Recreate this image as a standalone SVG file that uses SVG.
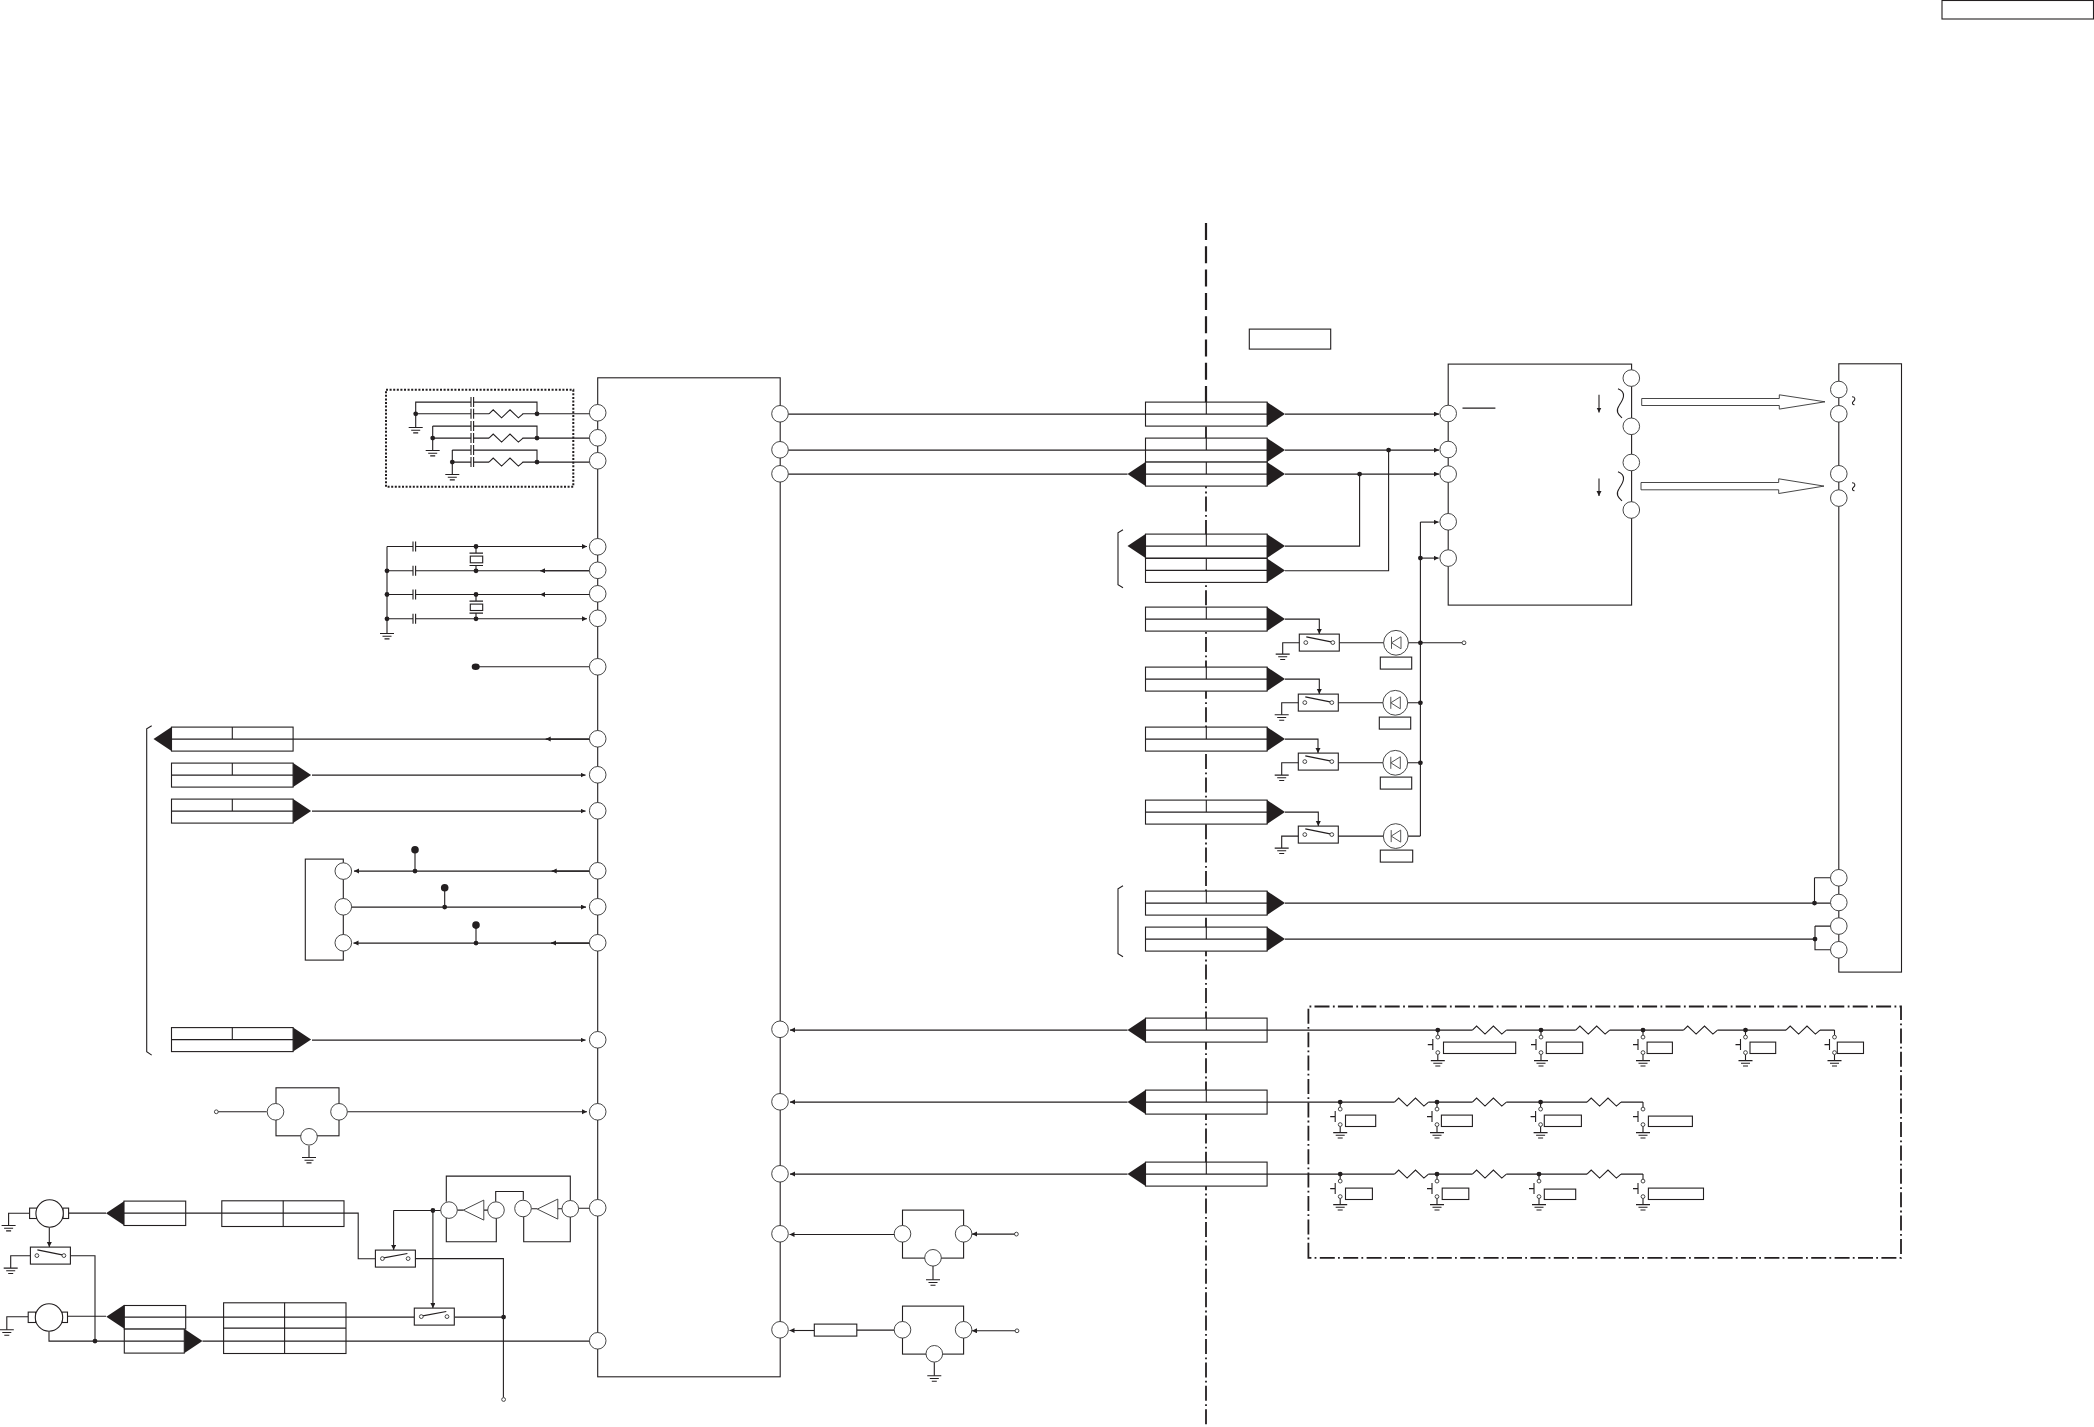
<svg xmlns="http://www.w3.org/2000/svg" width="2094" height="1427" viewBox="0 0 2094 1427">
<style>
.w{fill:none;stroke:#231f20;stroke-width:1.1}
.o{fill:#fff;stroke:#231f20;stroke-width:1.1}
.t{fill:#fff;stroke:#333;stroke-width:.9}
.f{fill:#231f20;stroke:none}
.dd{fill:none;stroke:#231f20;stroke-width:1.8;stroke-dasharray:15 3.4 1.8 3.2}
.ds{fill:none;stroke:#231f20;stroke-width:2.2;stroke-dasharray:17 6.3}
.dot{fill:none;stroke:#231f20;stroke-width:2;stroke-dasharray:2 1.6}
.a{fill:none;stroke:#231f20;stroke-width:1.1;marker-end:url(#ah)}
.thin{fill:none;stroke:#555;stroke-width:1}
</style>
<defs>
<marker id="ah" markerUnits="userSpaceOnUse" markerWidth="6" markerHeight="6" refX="5" refY="2.5" orient="auto"><path d="M0 0L5 2.5L0 5Z" fill="#231f20"/></marker>
<circle id="pin" r="8.3" class="t"/>
<circle id="j" r="2.4" class="f"/>
<circle id="bj" r="3.8" class="f"/>
<circle id="term" r="1.9" class="t"/>
<g id="gnd" class="w"><path d="M-7 0H7M-4.5 2.7H4.5M-2.5 5.4H2.5"/></g>
<path id="res" class="w" d="M0 0L4.2-4L12.6 4L21-4L29.4 4L34 0"/>
<g id="cap" class="w"><path d="M-1.3-5V5M1.3-5V5"/></g>
<g id="cb"><rect width="121.6" height="24" class="o"/><path class="w" d="M0 12H121.6M60.8 0V12"/></g>
<path id="tr" class="f" d="M0-12L18 0L0 12Z"/>
<path id="tl" class="f" d="M0-12L-18 0L0 12Z"/>
<g id="reld"><rect width="40" height="17" class="o"/><path class="w" d="M7 2.8L33 8"/><circle cx="6.5" cy="8.5" r="1.9" class="t"/><circle cx="33.5" cy="8.5" r="1.9" class="t"/></g>
<g id="relu"><rect width="40" height="17" class="o"/><path class="w" d="M7 8L32 3.4"/><circle cx="7" cy="8.5" r="1.9" class="t"/><circle cx="32.7" cy="8.5" r="1.9" class="t"/></g>
<g id="led"><circle r="12.4" class="t"/><path class="thin" d="M-4.5-6V6M-4.5 0L5-6V6Z"/></g>
<g id="sw"><path class="w" d="M0 0V5.2M0 24.5V30.5M-5 9V20M-10 14.5H-5"/><circle cy="7" r="1.9" class="t"/><circle cy="22.5" r="1.9" class="t"/><use href="#gnd" y="30.5"/></g>
<path id="tri" class="t" d="M0 0L20.5-10V10Z"/>
<path id="squig" class="w" d="M0 0C10 4 4 12 1 17C-3 23 1 26 4 29"/>
<path id="tild" class="w" d="M0 0C3.5 0 3.5 3 1.5 4.5C-.5 6 .5 8 2.5 8"/>
</defs>

<g id="centre-line"><path class="ds" d="M1206 223V403"/><path class="dd" d="M1206 403V1427"/></g>
<g id="title-box"><rect x="1942" y=".5" width="151.5" height="18.5" class="o"/></g>
<g transform="translate(0 .8)">
<g id="unit-boundary"><path class="dd" d="M1308.4 1257V1005.7H1901V1257Z"/></g>
<g id="filter-box"><rect x="386" y="389" width="187.3" height="97" class="dot"/></g>
<g id="note-box"><rect x="1249.3" y="328.3" width="81.4" height="20" class="o"/></g>

<g id="connectors">
<!-- filters -->
<path class="w" d="M415.7 413V401.3H471M473.6 401.3H537V413M415.7 413H471M473.6 413H489M522.5 413H589.5M415.7 413V426.7"/>
<path class="w" d="M432.7 425.3H471M473.6 425.3H537V437.3M432.7 425.3V449.7M432.7 437.3H471M473.6 437.3H489M522.5 437.3H589.5"/>
<path class="w" d="M452.3 449.3H471M473.6 449.3H537V461.3M452.3 449.3V473.7M452.3 461.3H471M473.6 461.3H489M522.5 461.3H589.5"/>
<!-- crystals -->
<path class="w" d="M387 545.7V632.7M387 545.7H413M387 570H413M387 593.7H413M387 618H413M415.7 570H589.5M415.7 593.7H589.5M476 545.7V552.3M476 564.7V570M476 593.7V600.3M476 612.3V618"/>
<path class="a" d="M415.7 545.7H587"/><path class="a" d="M415.7 618H587"/>
<path class="a" d="M589.5 570H540"/><path class="a" d="M589.5 593.7H540"/>
<path class="w" d="M476 666H589.5"/>
<!-- left connectors -->
<path class="w" d="M293 738.3H589.5"/><path class="a" d="M589.5 738.3H545.7"/>
<path class="a" d="M312 774.3H585.5"/><path class="a" d="M312 810.3H585.5"/><path class="a" d="M312 1039.3H585.5"/>
<path class="a" d="M589.5 870.3H354"/><path class="a" d="M589.5 870.3H551.7"/>
<path class="a" d="M351.7 906.3H586"/>
<path class="a" d="M589.5 942.3H353.5"/><path class="a" d="M589.5 942.3H551"/>
<path class="w" d="M415 849V870.3M444.7 887V906.3M476 924.3V942.3"/>
<!-- regulator left -->
<path class="w" d="M218 1111H266.7"/><path class="a" d="M347.3 1111H587"/>
<path class="w" d="M309 1145V1156.7"/>
<!-- motor side -->
<path class="w" d="M29.6 1212.5H8.6V1224.7M68.6 1212.3H106M185.7 1212.3H358.2V1258H375.4M414.6 1257.8H503.4V1396.8"/>
<path class="w" d="M28.2 1316H6.8V1329M67.5 1315.5H106M185.7 1316.3H414.3M454.6 1316.3H503.6"/>
<path class="w" d="M49 1330.7V1340.3H124.3M202.5 1340.3H589.5M95 1340.3V1255H70.7M30.4 1255H10.7V1267.3"/>
<path class="a" d="M49.3 1226.7V1246.3"/>
<path class="w" d="M432.9 1209.7H393.6"/><path class="a" d="M393.6 1209.7V1249.3"/><path class="a" d="M432.9 1209.7V1307.3"/>
<path class="w" d="M432.9 1209.7H440.7M578.6 1207.5H589.4"/>
<!-- main to centre -->
<path class="w" d="M788.3 413.3H1145.5M788.3 449.3H1145.5M788.3 473.3H1127.5"/>
<path class="a" d="M1285 413.3H1439"/><path class="a" d="M1285 449.3H1439"/><path class="a" d="M1285 473.3H1439"/>
<path class="w" d="M1285 545.3H1359.6V473.3M1285 570H1388.6V449.3"/>
<path class="a" d="M1285 618.3H1319.3V633.3"/><path class="a" d="M1285 678.3H1319.3V693.3"/><path class="a" d="M1285 738.3H1318V752.3"/><path class="a" d="M1285 811.3H1318.3V825.3"/>
<path class="w" d="M1420.4 521.3V835.3"/><path class="a" d="M1420.4 521.3H1438.6"/><path class="a" d="M1420.4 557.3H1438.6"/>
<path class="w" d="M1305 642H1282.7V653.3M1332.8 642H1462M1304.8 702H1281.7V714M1331.8 702H1420.4M1304.8 762H1281.7V774.3M1331.8 762H1420.4M1304.8 835.3H1281.7V847.3M1331.8 835.3H1420.4"/>
<path class="a" d="M1127.5 1029.3H790"/><path class="a" d="M1127.5 1101.3H790"/><path class="a" d="M1127.5 1173.3H790"/>
<!-- push-switch rows -->
<path class="w" d="M1267 1029.3H1472.4M1506.4 1029.3H1575.7M1609.7 1029.3H1683.5M1717.5 1029.3H1786M1820 1029.3H1834.5"/>
<path class="w" d="M1267 1101.3H1394.5M1428.5 1101.3H1472.4M1506.4 1101.3H1587M1621 1101.3H1643"/>
<path class="w" d="M1267 1173.3H1394.5M1428.5 1173.3H1472.4M1506.4 1173.3H1587M1621 1173.3H1643"/>
<!-- to right unit -->
<path class="w" d="M1285 902.3H1830.7M1285 938.3H1815M1814.5 877H1830.7M1814.5 877V902.3M1815 925.3H1830.7M1815 925.3V949H1830.7"/>
<!-- right regulators -->
<path class="a" d="M902.5 1233.7H789.5"/><path class="a" d="M1016.4 1233.3H972"/>
<path class="w" d="M933 1265V1279M934.3 1361.5V1375"/>
<path class="a" d="M814.3 1329.7H789.5"/><path class="w" d="M856.8 1329.3H894.2"/><path class="a" d="M1017 1330H972"/>
</g>

<g id="ic-main"><rect x="597.7" y="377" width="182.5" height="999" class="w"/>
<use href="#pin" x="597.7" y="412"/><use href="#pin" x="597.7" y="437"/><use href="#pin" x="597.7" y="460"/><use href="#pin" x="597.7" y="546"/><use href="#pin" x="597.7" y="569.5"/><use href="#pin" x="597.7" y="593"/><use href="#pin" x="597.7" y="617.5"/><use href="#pin" x="597.7" y="666"/><use href="#pin" x="597.7" y="738"/><use href="#pin" x="597.7" y="774"/><use href="#pin" x="597.7" y="810"/><use href="#pin" x="597.7" y="870"/><use href="#pin" x="597.7" y="906"/><use href="#pin" x="597.7" y="942"/><use href="#pin" x="597.7" y="1039"/><use href="#pin" x="597.7" y="1111"/><use href="#pin" x="597.7" y="1207"/><use href="#pin" x="597.7" y="1340"/>
<use href="#pin" x="780" y="413"/><use href="#pin" x="780" y="449"/><use href="#pin" x="780" y="473"/><use href="#pin" x="780" y="1028.5"/><use href="#pin" x="780" y="1101"/><use href="#pin" x="780" y="1173"/><use href="#pin" x="780" y="1233"/><use href="#pin" x="780" y="1329"/></g>

<g id="filter-parts">
<use href="#j" x="415.7" y="413"/><use href="#j" x="537" y="413"/><use href="#j" x="432.7" y="437.3"/><use href="#j" x="537" y="437.3"/><use href="#j" x="452.3" y="461.3"/><use href="#j" x="537" y="461.3"/>
<use href="#cap" x="472.3" y="401.3"/><use href="#cap" x="472.3" y="413"/><use href="#cap" x="472.3" y="425.3"/><use href="#cap" x="472.3" y="437.3"/><use href="#cap" x="472.3" y="449.3"/><use href="#cap" x="472.3" y="461.3"/>
<use href="#res" x="489" y="413"/><use href="#res" x="489" y="437.3"/><use href="#res" x="489" y="461.3"/>
<use href="#gnd" x="415.7" y="426.7"/><use href="#gnd" x="432.7" y="449.7"/><use href="#gnd" x="452.3" y="473.7"/>
</g>
<g id="crystal-parts">
<use href="#cap" x="414.3" y="545.7"/><use href="#cap" x="414.3" y="570"/><use href="#cap" x="414.3" y="593.7"/><use href="#cap" x="414.3" y="618"/>
<use href="#j" x="387" y="570"/><use href="#j" x="387" y="593.7"/><use href="#j" x="387" y="618"/>
<use href="#j" x="476" y="545.7"/><use href="#j" x="476" y="570"/><use href="#j" x="476" y="593.7"/><use href="#j" x="476" y="618"/>
<rect x="470.3" y="555.3" width="12.4" height="6.7" class="o"/><rect x="470.3" y="603.3" width="12.4" height="6.4" class="o"/>
<path class="w" d="M469.5 552.3H483M469.5 564.7H483M469.5 600.3H483M469.5 612.3H483"/>
<use href="#gnd" x="387" y="632.7"/>
<ellipse cx="475.7" cy="666" rx="4" ry="3.3" class="f"/>
</g>

<g id="cn-left-a"><use href="#cb" x="171.5" y="726.3"/><use href="#tl" x="171.5" y="738.3"/></g>
<g id="cn-left-b"><use href="#cb" x="171.5" y="762.3"/><use href="#tr" x="293.1" y="774.3"/></g>
<g id="cn-left-c"><use href="#cb" x="171.5" y="798.3"/><use href="#tr" x="293.1" y="810.3"/></g>
<g id="cn-left-d"><use href="#cb" x="171.5" y="1026.8"/><use href="#tr" x="293.1" y="1038.8"/></g>
<g id="bracket-left"><path class="w" d="M151.7 725L146.7 728V1051L151.7 1054.3"/></g>

<g id="small-ic"><rect x="305.3" y="858.3" width="38" height="101" class="w"/><use href="#pin" x="343.3" y="870.3"/><use href="#pin" x="343.3" y="906"/><use href="#pin" x="343.3" y="942"/>
<use href="#j" x="415" y="870.3"/><use href="#bj" x="415" y="849"/><use href="#j" x="444.7" y="906.3"/><use href="#bj" x="444.7" y="887"/><use href="#j" x="476" y="942.3"/><use href="#bj" x="476" y="924.3"/></g>

<g id="reg-left"><rect x="276" y="1087" width="63" height="48" class="w"/><use href="#pin" x="275.5" y="1111"/><use href="#pin" x="339" y="1111"/><use href="#pin" x="309" y="1136"/><use href="#term" x="216.3" y="1111"/><use href="#gnd" x="309" y="1156.7"/></g>

<g id="motor-1"><rect x="29.6" y="1207.3" width="7.2" height="10.4" class="o"/><rect x="63" y="1207.3" width="5.6" height="10.4" class="o"/><circle cx="49.6" cy="1212.7" r="13.7" class="o"/><use href="#gnd" x="8.6" y="1224.7"/></g>
<g id="motor-2"><rect x="28.2" y="1311.3" width="7.4" height="10.4" class="o"/><rect x="62" y="1311.3" width="5.5" height="10.4" class="o"/><circle cx="49" cy="1316.7" r="13.7" class="o"/><use href="#gnd" x="6.8" y="1329"/></g>
<g id="relay-left"><use href="#reld" x="30.4" y="1246.3"/><use href="#gnd" x="10.7" y="1267.3"/><use href="#j" x="95" y="1340.3"/></g>
<g id="driver-1"><rect x="124" y="1200.3" width="61.7" height="24.4" class="o"/><path class="w" d="M124 1212.3H185.7"/><use href="#tl" x="124" y="1212.5"/></g>
<g id="table-1"><rect x="221.8" y="1200" width="122.2" height="25.7" class="o"/><path class="w" d="M221.8 1212.3H344M283.2 1200V1225.7"/></g>
<g id="driver-2"><rect x="124.3" y="1304.7" width="61.4" height="23.6" class="o"/><rect x="124.3" y="1328.3" width="60" height="24" class="o"/><path class="w" d="M124.3 1316.3H185.7M124.3 1340.3H184.3"/><use href="#tl" x="124.3" y="1316"/><use href="#tr" x="184.5" y="1340.3"/></g>
<g id="table-2"><rect x="223.6" y="1302" width="122.4" height="50.7" class="o"/><path class="w" d="M223.6 1316.3H346M223.6 1327.3H346M223.6 1340.3H346M284.6 1302V1352.7"/></g>
<g id="relay-a"><use href="#relu" x="375.4" y="1249.3"/></g>
<g id="relay-b"><use href="#relu" x="414.3" y="1307.3"/></g>
<g id="motor-junctions"><use href="#j" x="432.9" y="1209.7"/><use href="#j" x="503.6" y="1316.3"/><use href="#term" x="503.6" y="1398.7"/></g>
<g id="dual-driver">
<path class="w" d="M446.3 1201V1175.3H570.3V1200M495.7 1201V1190.7H523.3V1199M446.3 1217V1241H496.3V1217M523.7 1216V1241H570.3V1216M457.3 1209.3H463.3M484 1209.3H488M531.3 1208H537.3M558 1208H562"/>
<use href="#pin" x="449" y="1209.3"/><use href="#tri" x="463.3" y="1209.3"/><use href="#pin" x="496" y="1209.3"/><use href="#pin" x="523" y="1207.7"/><use href="#tri" x="537.3" y="1208.3"/><use href="#pin" x="570.3" y="1208"/>
</g>

<g id="cn-1"><use href="#cb" x="1145.5" y="401.3"/><use href="#tr" x="1267" y="413.3"/></g>
<g id="cn-2"><use href="#cb" x="1145.5" y="437.3"/><use href="#tr" x="1267" y="449.3"/></g>
<g id="cn-3"><use href="#cb" x="1145.5" y="461.3"/><use href="#tl" x="1145.5" y="473.3"/><use href="#tr" x="1267" y="473.3"/></g>
<g id="cn-4"><use href="#cb" x="1145.5" y="533.3"/><use href="#tl" x="1145.5" y="545.3"/><use href="#tr" x="1267" y="545.3"/></g>
<g id="cn-5"><use href="#cb" x="1145.5" y="557.6"/><use href="#tr" x="1267" y="569.6"/></g>
<g id="cn-6"><use href="#cb" x="1145.5" y="606.3"/><use href="#tr" x="1267" y="618.3"/></g>
<g id="cn-7"><use href="#cb" x="1145.5" y="666.3"/><use href="#tr" x="1267" y="678.3"/></g>
<g id="cn-8"><use href="#cb" x="1145.5" y="726.3"/><use href="#tr" x="1267" y="738.3"/></g>
<g id="cn-9"><use href="#cb" x="1145.5" y="799.3"/><use href="#tr" x="1267" y="811.3"/></g>
<g id="cn-10"><use href="#cb" x="1145.5" y="890.3"/><use href="#tr" x="1267" y="902.3"/></g>
<g id="cn-11"><use href="#cb" x="1145.5" y="926.3"/><use href="#tr" x="1267" y="938.3"/></g>
<g id="cn-12"><use href="#cb" x="1145.5" y="1017.3"/><use href="#tl" x="1145.5" y="1029.3"/></g>
<g id="cn-13"><use href="#cb" x="1145.5" y="1089.3"/><use href="#tl" x="1145.5" y="1101.3"/></g>
<g id="cn-14"><use href="#cb" x="1145.5" y="1161.3"/><use href="#tl" x="1145.5" y="1173.3"/></g>
<g id="brackets-right"><path class="w" d="M1123 529L1118 532V584L1123 587M1123 885L1118 888V953L1123 956"/></g>

<g id="ic-right"><rect x="1448.2" y="363.3" width="183.4" height="241" class="w"/>
<use href="#pin" x="1448.2" y="412.7"/><use href="#pin" x="1448.2" y="448.7"/><use href="#pin" x="1448.2" y="473.3"/><use href="#pin" x="1448.2" y="521"/><use href="#pin" x="1448.2" y="557.3"/>
<use href="#pin" x="1631.3" y="377.3"/><use href="#pin" x="1631.3" y="425.5"/><use href="#pin" x="1631.3" y="461.7"/><use href="#pin" x="1631.3" y="509.2"/>
<path class="w" d="M1462.5 407.3H1495.4"/>
<path class="a" d="M1599 394V411.7"/><path class="a" d="M1599 477.7V495.3"/>
<use href="#squig" x="1618" y="388"/><use href="#squig" x="1618" y="471"/>
<use href="#j" x="1388.6" y="449.3"/><use href="#j" x="1359.6" y="473.3"/><use href="#j" x="1420.4" y="557.3"/><use href="#j" x="1420.4" y="642"/><use href="#j" x="1420.4" y="702"/><use href="#j" x="1420.4" y="762"/>
</g>
<g id="flow-1"><path class="t" d="M1641.7 397.7H1779.3V394L1825 401L1779.3 408.3V404.7H1641.7Z"/></g>
<g id="flow-2"><path class="t" d="M1641 481.7H1778.7V478L1824 485.3L1778.7 492.7V489H1641Z"/></g>

<g id="unit-right"><rect x="1838.8" y="363" width="62.7" height="608.3" class="w"/>
<use href="#pin" x="1838.8" y="388.7"/><use href="#pin" x="1838.8" y="413"/><use href="#pin" x="1838.8" y="473"/><use href="#pin" x="1838.8" y="497.3"/><use href="#pin" x="1838.8" y="877"/><use href="#pin" x="1838.8" y="901.7"/><use href="#pin" x="1838.8" y="925.3"/><use href="#pin" x="1838.8" y="949"/>
<use href="#tild" x="1852" y="396"/><use href="#tild" x="1852" y="482"/>
<use href="#j" x="1814.5" y="902.3"/><use href="#j" x="1815" y="938.3"/></g>

<g id="relay-1"><use href="#reld" x="1299.3" y="633.3"/><use href="#gnd" x="1282.7" y="653.3"/><use href="#led" x="1396" y="642"/><rect x="1380.3" y="656.3" width="31.4" height="12" class="o"/><use href="#term" x="1464" y="642"/></g>
<g id="relay-2"><use href="#reld" x="1298.3" y="693.3"/><use href="#gnd" x="1281.7" y="714"/><use href="#led" x="1395.3" y="702"/><rect x="1379.3" y="716.3" width="31.4" height="12" class="o"/></g>
<g id="relay-3"><use href="#reld" x="1298.3" y="752.3"/><use href="#gnd" x="1281.7" y="774.3"/><use href="#led" x="1395.3" y="762"/><rect x="1380.3" y="776.3" width="31.4" height="12" class="o"/></g>
<g id="relay-4"><use href="#reld" x="1298.3" y="825.3"/><use href="#gnd" x="1281.7" y="847.3"/><use href="#led" x="1395.7" y="835.3"/><rect x="1380.3" y="849.3" width="32.4" height="12" class="o"/></g>

<g id="keys-row-1">
<use href="#j" x="1437.8" y="1029.3"/><use href="#j" x="1541" y="1029.3"/><use href="#j" x="1643" y="1029.3"/><use href="#j" x="1745.5" y="1029.3"/>
<use href="#res" x="1472.4" y="1029.3"/><use href="#res" x="1575.7" y="1029.3"/><use href="#res" x="1683.5" y="1029.3"/><use href="#res" x="1786" y="1029.3"/>
<use href="#sw" x="1437.8" y="1029.3"/><use href="#sw" x="1541" y="1029.3"/><use href="#sw" x="1643" y="1029.3"/><use href="#sw" x="1745.5" y="1029.3"/><use href="#sw" x="1834.5" y="1029.3"/>
<rect x="1443.5" y="1041.3" width="72.2" height="11.4" class="o"/><rect x="1546.3" y="1041.3" width="36.4" height="11.4" class="o"/><rect x="1647.1" y="1041.3" width="25.3" height="11.4" class="o"/><rect x="1750" y="1041.3" width="25.7" height="11.4" class="o"/><rect x="1837.3" y="1041.3" width="26.2" height="11.4" class="o"/>
</g>
<g id="keys-row-2">
<use href="#j" x="1340.2" y="1101.3"/><use href="#j" x="1437" y="1101.3"/><use href="#j" x="1540.6" y="1101.3"/>
<use href="#res" x="1394.5" y="1101.3"/><use href="#res" x="1472.4" y="1101.3"/><use href="#res" x="1587" y="1101.3"/>
<use href="#sw" x="1340.2" y="1101.3"/><use href="#sw" x="1437" y="1101.3"/><use href="#sw" x="1540.6" y="1101.3"/><use href="#sw" x="1643" y="1101.3"/>
<rect x="1345.5" y="1114.3" width="30.2" height="11.4" class="o"/><rect x="1441.4" y="1114.3" width="31" height="11.4" class="o"/><rect x="1544.3" y="1114.3" width="37.1" height="11.4" class="o"/><rect x="1648.4" y="1115.3" width="44" height="10.4" class="o"/>
</g>
<g id="keys-row-3">
<use href="#j" x="1340.2" y="1173.3"/><use href="#j" x="1437" y="1173.3"/><use href="#j" x="1539" y="1173.3"/>
<use href="#res" x="1394.5" y="1173.3"/><use href="#res" x="1472.4" y="1173.3"/><use href="#res" x="1587" y="1173.3"/>
<use href="#sw" x="1340.2" y="1173.3"/><use href="#sw" x="1437" y="1173.3"/><use href="#sw" x="1539" y="1173.3"/><use href="#sw" x="1643" y="1173.3"/>
<rect x="1345.5" y="1187.3" width="26.9" height="11.4" class="o"/><rect x="1442.2" y="1187.3" width="26.6" height="11.4" class="o"/><rect x="1544.3" y="1188.3" width="31.4" height="10.4" class="o"/><rect x="1648.4" y="1187.3" width="55.1" height="11.4" class="o"/>
</g>

<g id="reg-upper"><rect x="902.5" y="1209.3" width="61.1" height="48" class="w"/><use href="#pin" x="902.5" y="1233"/><use href="#pin" x="963.6" y="1233"/><use href="#pin" x="933" y="1257"/><use href="#gnd" x="933" y="1279"/><use href="#term" x="1016.4" y="1233.3"/></g>
<g id="reg-lower"><rect x="902.5" y="1305.3" width="61.1" height="48" class="w"/><use href="#pin" x="902.5" y="1329"/><use href="#pin" x="963.6" y="1329"/><use href="#pin" x="934.3" y="1353"/><use href="#gnd" x="934.3" y="1375"/><use href="#term" x="1017" y="1330"/><rect x="814.3" y="1323.3" width="42.5" height="12" class="o"/></g>
</g>
</svg>
